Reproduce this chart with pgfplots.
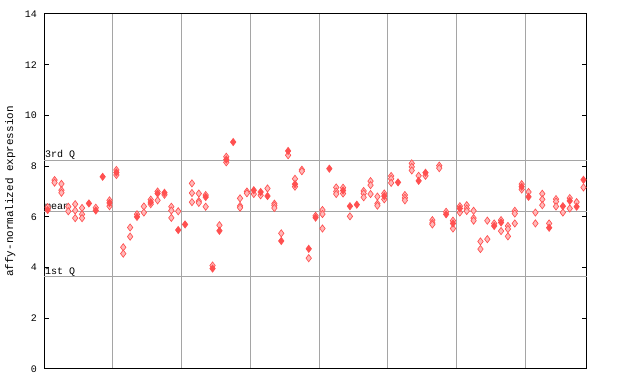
\documentclass[border=0pt]{standalone}
\usepackage{pgfplots}
\pgfplotsset{compat=1.18}
\usepackage{fontspec}
\setmainfont{Liberation Mono}
\definecolor{markred}{RGB}{255,80,80}
\definecolor{gridgray}{RGB}{165,165,165}
\begin{document}
\begin{tikzpicture}[x=1pt,y=1pt]
\path[use as bounding box] (-33.2pt,-11.25pt) rectangle (446.8pt,276.75pt);
\begin{axis}[
  at={(0,0)}, anchor=south west,
  scale only axis, width=407pt, height=266.25pt,
  xmin=0, xmax=79, ymin=0, ymax=14,
  axis line style={black, line width=0.75pt},
  xtick={10,20,30,40,50,60,70}, xticklabels={},
  xtick style={draw=none},
  xmajorgrids, grid style={gridgray, line width=0.75pt},
  ytick={0,2,4,6,8,10,12,14},
  ytick pos=both, yticklabel pos=left,
  tick align=inside, major tick length=3.75pt,
  ytick style={black, line width=0.75pt},
  yticklabel style={font=\fontsize{7.5}{9}\selectfont, xshift=-2pt},
  /pgf/number format/assume math mode=true,
  ylabel={affy-normalized expression},
  every axis y label/.style={at={(rel axis cs:0,0.5)}, xshift=-25.5pt, rotate=90, anchor=center, font=\fontsize{8.2}{9}\selectfont},
  clip=false,
]
\draw[gridgray, line width=0.75pt] (axis cs:0,8.24) -- (axis cs:79,8.24);
\draw[gridgray, line width=0.75pt] (axis cs:0,6.23) -- (axis cs:79,6.23);
\draw[gridgray, line width=0.75pt] (axis cs:0,3.63) -- (axis cs:79,3.63);
\node[anchor=south west, inner sep=0.5pt, font=\fontsize{7.5}{8}\selectfont] at (axis cs:0,8.24) {3rd Q};
\node[anchor=south west, inner sep=0.5pt, font=\fontsize{7.5}{8}\selectfont] at (axis cs:0,6.23) {mean};
\node[anchor=south west, inner sep=0.5pt, font=\fontsize{7.5}{8}\selectfont] at (axis cs:0,3.63) {1st Q};
% checkered (light) markers
\addplot[only marks, mark=diamond*, mark size=2.7pt, mark options={draw=markred, fill=markred!40!white, line width=0.5pt}] coordinates {
(0.5,6.38)
(1.5,7.45)(1.5,7.35)
(2.5,7.30)(2.5,7.05)(2.5,6.95)
(3.5,6.40)(3.5,6.22)
(4.5,6.50)(4.5,6.25)(4.5,5.95)
(5.5,6.35)(5.5,6.10)(5.5,5.95)
(7.5,6.36)
(9.5,6.65)(9.5,6.42)
(10.5,7.85)(10.5,7.65)
(11.5,4.80)(11.5,4.55)
(12.5,5.58)(12.5,5.22)
(13.5,6.10)
(14.5,6.41)(14.5,6.17)
(15.5,6.68)(15.5,6.50)
(16.5,7.00)(16.5,6.65)
(17.5,6.87)
(18.5,6.40)(18.5,6.25)(18.5,5.96)
(19.5,6.22)
(21.5,7.32)(21.5,6.94)(21.5,6.58)
(22.5,6.92)(22.5,6.62)(22.5,6.55)
(23.5,6.86)(23.5,6.40)
(24.5,4.08)
(25.5,5.67)
(26.5,8.37)(26.5,8.15)
(28.5,6.73)(28.5,6.43)(28.5,6.36)
(29.5,7.00)(29.5,6.93)
(30.5,6.90)
(31.5,6.85)
(32.5,7.12)
(33.5,6.52)(33.5,6.45)(33.5,6.35)
(34.5,5.35)
(35.5,8.43)
(36.5,7.50)(36.5,7.19)
(37.5,7.86)(37.5,7.80)
(38.5,4.37)
(39.5,6.04)
(40.5,6.27)(40.5,6.11)(40.5,5.54)
(42.5,7.16)(42.5,7.00)(42.5,6.90)
(43.5,7.15)(43.5,6.92)
(44.5,6.02)
(46.5,7.02)(46.5,6.92)(46.5,6.77)
(47.5,7.41)(47.5,7.25)(47.5,6.90)
(48.5,6.80)(48.5,6.52)(48.5,6.44)
(49.5,6.92)(49.5,6.69)
(50.5,7.61)(50.5,7.50)(50.5,7.34)
(52.5,6.86)(52.5,6.75)(52.5,6.65)
(53.5,8.11)(53.5,7.97)(53.5,7.83)
(54.5,7.62)
(55.5,7.62)
(56.5,5.87)(56.5,5.76)(56.5,5.70)
(57.5,8.02)(57.5,7.92)
(58.5,6.20)
(59.5,5.85)(59.5,5.54)
(60.5,6.42)(60.5,6.17)
(61.5,6.46)(61.5,6.33)(61.5,6.23)
(62.5,6.24)(62.5,5.95)(62.5,5.85)
(63.5,5.03)(63.5,4.73)
(64.5,5.85)(64.5,5.12)
(65.5,5.74)
(66.5,5.87)(66.5,5.44)
(67.5,5.64)(67.5,5.52)(67.5,5.23)
(68.5,6.24)(68.5,6.13)(68.5,5.74)
(69.5,7.29)(69.5,7.08)
(70.5,6.98)
(71.5,6.17)(71.5,5.74)
(72.5,6.91)(72.5,6.69)(72.5,6.46)
(73.5,5.74)
(74.5,6.70)(74.5,6.60)(74.5,6.41)
(75.5,6.17)
(76.5,6.74)(76.5,6.33)
(77.5,6.58)
(78.5,7.16)
};
% solid markers
\addplot[only marks, mark=diamond*, mark size=2.7pt, mark options={draw=markred, fill=markred, line width=0.5pt}] coordinates {
(0.5,6.27)
(6.5,6.53)
(7.5,6.25)
(8.5,7.58)
(9.5,6.55)
(10.5,7.75)
(13.5,6.00)
(15.5,6.58)
(16.5,6.92)
(17.5,6.95)
(19.5,5.48)
(20.5,5.70)
(23.5,6.78)
(24.5,3.96)
(25.5,5.45)
(26.5,8.26)
(27.5,8.95)
(30.5,7.05)
(31.5,6.98)
(32.5,6.82)
(34.5,5.05)
(35.5,8.60)
(36.5,7.29)
(38.5,4.74)
(39.5,5.97)
(41.5,7.90)
(43.5,7.04)
(44.5,6.42)
(45.5,6.48)
(49.5,6.82)
(51.5,7.36)
(54.5,7.42)
(55.5,7.74)
(58.5,6.10)
(59.5,5.74)
(60.5,6.33)
(65.5,5.64)
(66.5,5.78)
(69.5,7.19)
(70.5,6.79)
(73.5,5.57)
(75.5,6.42)
(76.5,6.63)
(77.5,6.40)
(78.5,7.46)
};
\end{axis}
\end{tikzpicture}
\end{document}
